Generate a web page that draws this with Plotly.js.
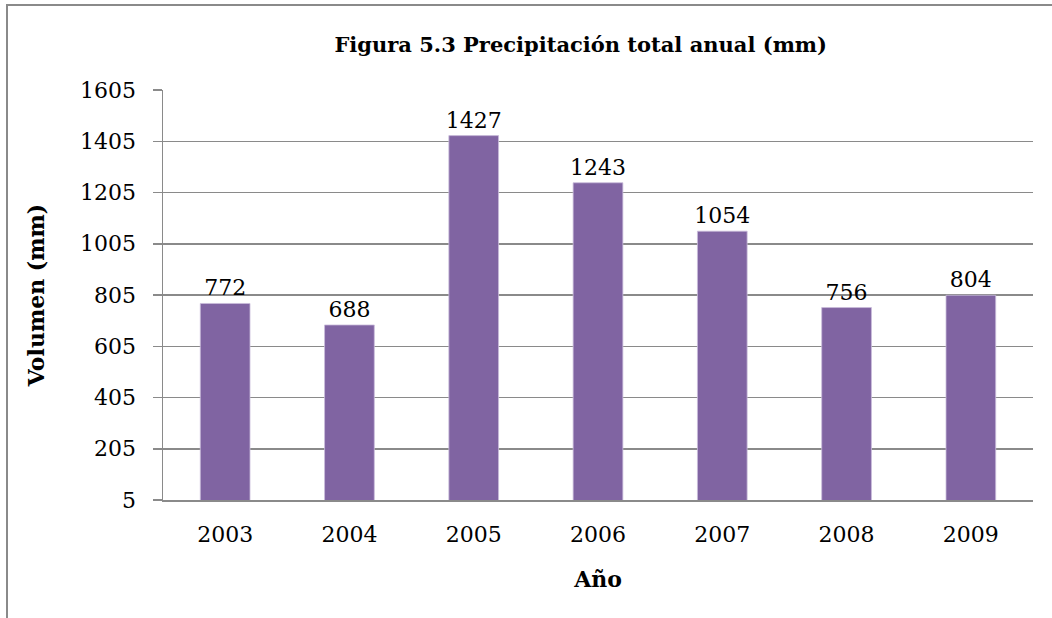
<!DOCTYPE html>
<html>
<head>
<meta charset="utf-8">
<script src="https://cdn.plot.ly/plotly-3.0.1.min.js"></script>
<style>
html,body{margin:0;padding:0;overflow:hidden;background:#fff;}
#chart{position:absolute;left:0;top:0;width:1052px;height:618px;}
#frame{position:absolute;left:6px;top:4px;width:2000px;height:2000px;border:2px solid #8a8a8a;pointer-events:none;}
</style>
</head>
<body>
<div id="chart"></div>
<div id="frame"></div>
<script>
const years = ['2003','2004','2005','2006','2007','2008','2009'];
const precipitation = [772, 688, 1427, 1243, 1054, 756, 804];
const yTicks = [5, 205, 405, 605, 805, 1005, 1205, 1405, 1605];

const serif = 'DejaVu Serif, Liberation Serif, serif';

const trace = {
  type: 'bar',
  x: years,
  y: precipitation,
  marker: {color: '#8064A2', line: {color: '#c9bcdb', width: 0.8}},
  text: precipitation.map(String),
  textposition: 'outside',
  constraintext: 'none',
  textfont: {family: serif, size: 22, color: '#000'},
  cliponaxis: false,
  hoverinfo: 'x+y'
};

const layout = {
  width: 1052,
  height: 618,
  margin: {l: 163, r: 19, t: 90, b: 118},
  paper_bgcolor: '#fff',
  plot_bgcolor: '#fff',
  bargap: 0.6,
  showlegend: false,
  font: {family: serif, color: '#000'},
  title: {
    text: '<b>Figura 5.3 Precipitación total anual (mm)</b>',
    font: {family: serif, size: 21, color: '#000'},
    x: 0.552, xanchor: 'center',
    y: 0.927, yanchor: 'middle'
  },
  xaxis: {
    type: 'category',
    showgrid: false,
    showline: true,
    linecolor: '#8a8a8a',
    linewidth: 1.5,
    ticks: '',
    ticklabelstandoff: 14,
    tickfont: {family: serif, size: 22, color: '#000'},
    title: {text: '<b>Año</b>', font: {family: serif, size: 22, color: '#000'}, standoff: 25}
  },
  yaxis: {
    range: [5, 1605],
    tickmode: 'array',
    tickvals: yTicks,
    ticktext: yTicks.map(String),
    showgrid: true,
    gridcolor: '#8a8a8a',
    gridwidth: 1.5,
    zeroline: false,
    showline: true,
    linecolor: '#8a8a8a',
    linewidth: 1.5,
    ticks: 'outside',
    ticklen: 9,
    tickcolor: '#8a8a8a',
    tickwidth: 1.5,
    ticklabelstandoff: 12,
    tickfont: {family: serif, size: 22, color: '#000'},
    title: {text: '<b>Volumen (mm)</b>', font: {family: serif, size: 22, color: '#000'}, standoff: 29}
  }
};

Plotly.newPlot('chart', [trace], layout, {displayModeBar: false, staticPlot: true});
</script>
</body>
</html>
